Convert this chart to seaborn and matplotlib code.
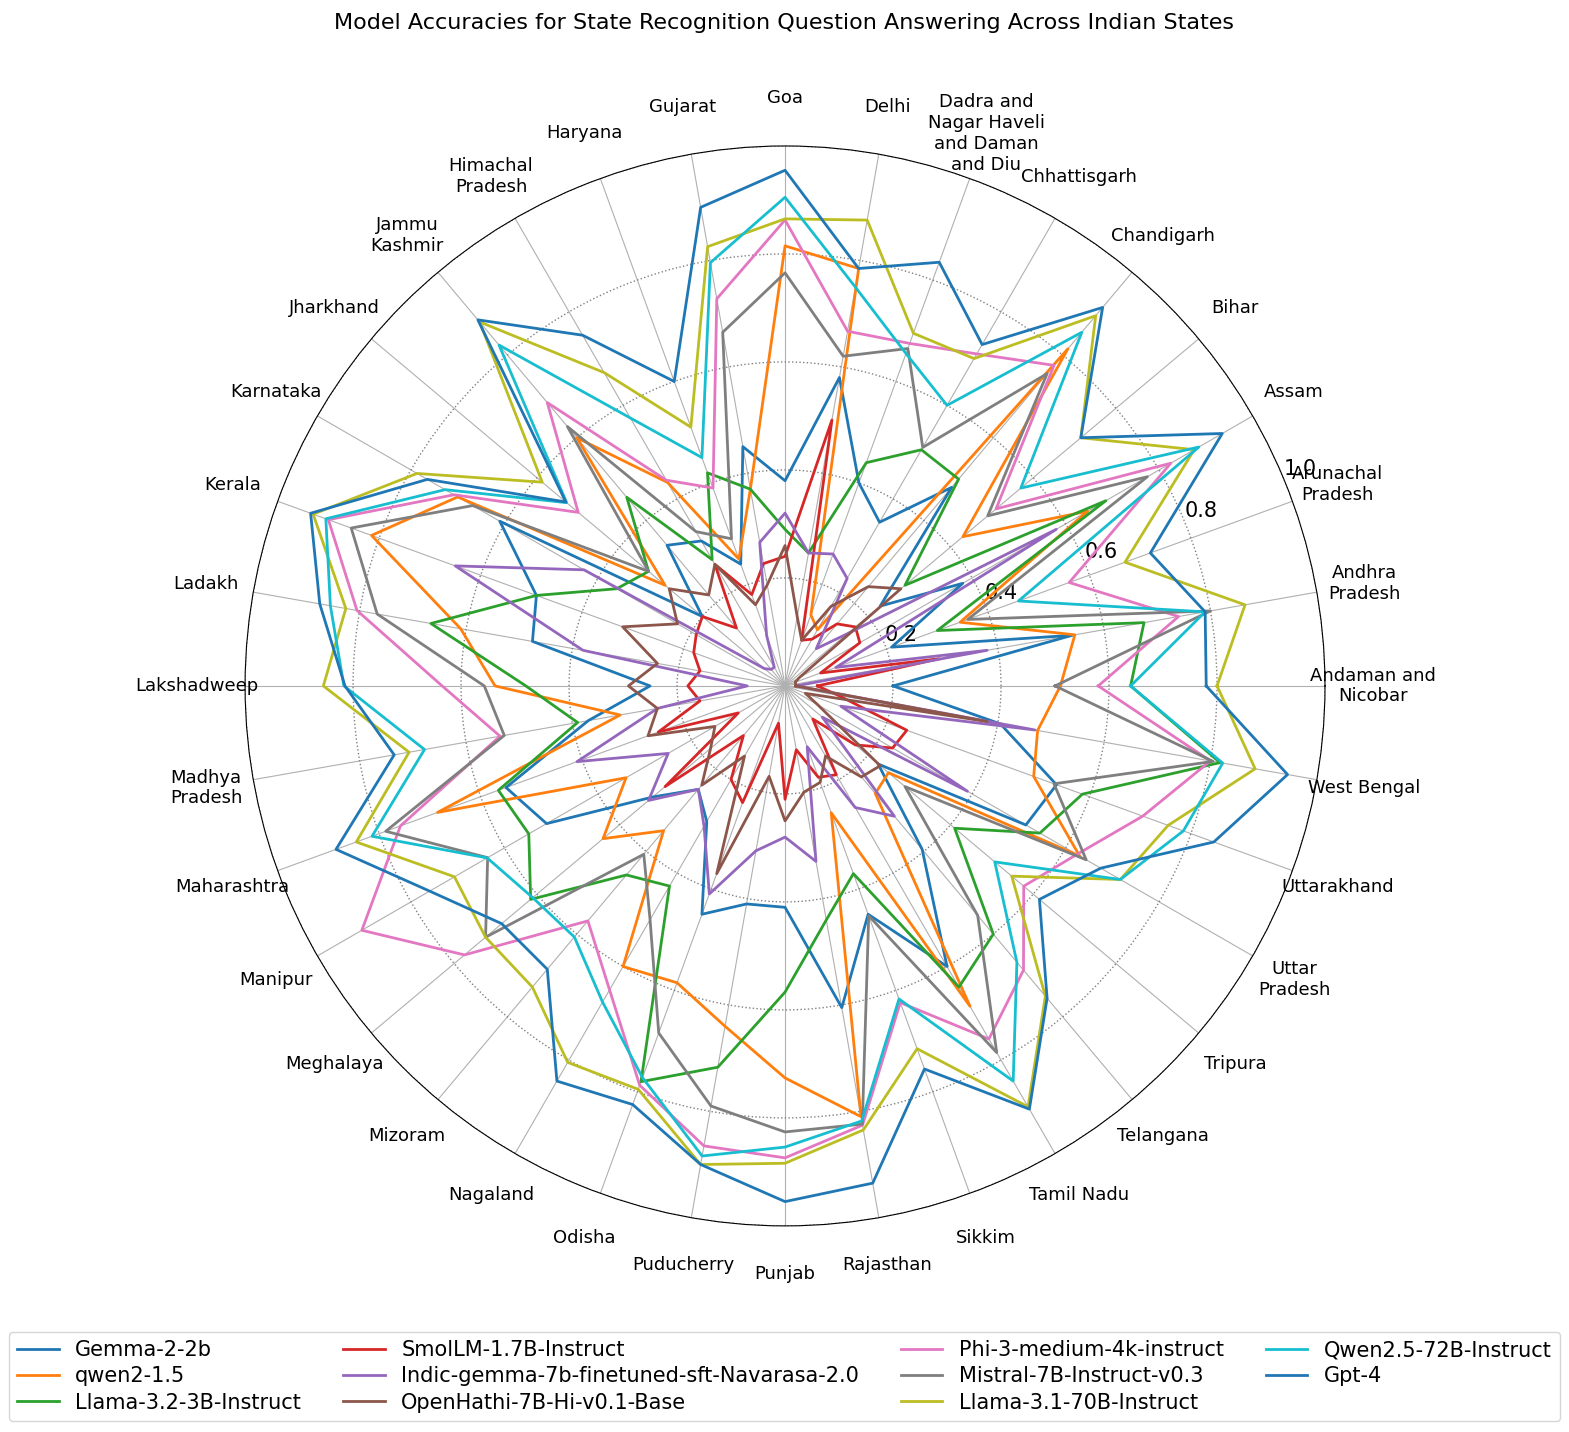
import textwrap
import numpy as np
import pandas as pd
import matplotlib.pyplot as plt
from matplotlib.lines import Line2D
import seaborn as sns

# states, counter-clockwise from the right
states = ["Andaman and Nicobar", "Andhra Pradesh", "Arunachal Pradesh", "Assam", "Bihar",
          "Chandigarh", "Chhattisgarh", "Dadra and Nagar Haveli and Daman and Diu", "Delhi",
          "Goa", "Gujarat", "Haryana", "Himachal Pradesh", "Jammu Kashmir", "Jharkhand",
          "Karnataka", "Kerala", "Ladakh", "Lakshadweep", "Madhya Pradesh", "Maharashtra",
          "Manipur", "Meghalaya", "Mizoram", "Nagaland", "Odisha", "Puducherry", "Punjab",
          "Rajasthan", "Sikkim", "Tamil Nadu", "Telangana", "Tripura", "Uttar Pradesh",
          "Uttarakhand", "West Bengal"]

models = ["Gemma-2-2b", "qwen2-1.5", "Llama-3.2-3B-Instruct", "SmolLM-1.7B-Instruct",
          "Indic-gemma-7b-finetuned-sft-Navarasa-2.0", "OpenHathi-7B-Hi-v0.1-Base",
          "Phi-3-medium-4k-instruct", "Mistral-7B-Instruct-v0.3", "Llama-3.1-70B-Instruct",
          "Qwen2.5-72B-Instruct", "Gpt-4"]

gemma = [0.20, 0.54, 0.21, 0.38, 0.23, 0.48, 0.35, 0.40, 0.58, 0.38, 0.45, 0.24,
         0.31, 0.34, 0.20, 0.61, 0.49, 0.475, 0.25, 0.37, 0.55, 0.51, 0.32, 0.25,
         0.29, 0.45, 0.41, 0.41, 0.605, 0.45, 0.60, 0.395, 0.225, 0.515, 0.535, 0.405]
qwen2 = [0.51, 0.545, 0.345, 0.647, 0.43, 0.815, 0.12, 0.14, 0.785, 0.815, 0.37, 0.25,
         0.435, 0.60, 0.29, 0.70, 0.815, 0.61, 0.537, 0.31, 0.685, 0.34, 0.44, 0.35,
         0.60, 0.585, 0.64, 0.726, 0.81, 0.25, 0.685, 0.26, 0.25, 0.63, 0.49, 0.475]
llama32 = [0.64, 0.675, 0.30, 0.686, 0.29, 0.50, 0.505, 0.44, 0.25, 0.29, 0.37, 0.42,
           0.27, 0.456, 0.33, 0.36, 0.49, 0.666, 0.48, 0.39, 0.565, 0.548, 0.615, 0.457,
           0.428, 0.78, 0.717, 0.567, 0.44, 0.37, 0.644, 0.60, 0.41, 0.545, 0.586, 0.818]
smollm = [0.06, 0.29, 0.07, 0.16, 0.17, 0.15, 0.10, 0.09, 0.50, 0.24, 0.23, 0.18,
          0.26, 0.14, 0.20, 0.19, 0.18, 0.16, 0.18, 0.16, 0.25, 0.10, 0.29, 0.12,
          0.20, 0.23, 0.07, 0.21, 0.12, 0.18, 0.19, 0.08, 0.17, 0.23, 0.24, 0.10]
indic = [0.02, 0.38, 0.10, 0.58, 0.15, 0.09, 0.23, 0.26, 0.25, 0.32, 0.27, 0.10,
         0.04, 0.04, 0.05, 0.43, 0.65, 0.38, 0.07, 0.24, 0.41, 0.25, 0.33, 0.25,
         0.30, 0.41, 0.31, 0.28, 0.33, 0.12, 0.26, 0.315, 0.09, 0.39, 0.11, 0.47]
openhathi = [0.02, 0.02, 0.02, 0.03, 0.28, 0.24, 0.17, 0.09, 0.13, 0.26, 0.19, 0.16,
             0.26, 0.22, 0.28, 0.23, 0.32, 0.24, 0.29, 0.24, 0.27, 0.15, 0.18, 0.24,
             0.15, 0.37, 0.17, 0.25, 0.20, 0.19, 0.15, 0.22, 0.23, 0.07, 0.04, 0.38]
phi3 = [0.58, 0.74, 0.56, 0.825, 0.51, 0.775, 0.71, 0.675, 0.667, 0.863, 0.728, 0.39,
        0.44, 0.685, 0.50, 0.708, 0.90, 0.805, 0.635, 0.536, 0.758, 0.905, 0.775, 0.568,
        0.65, 0.787, 0.865, 0.874, 0.826, 0.624, 0.755, 0.687, 0.577, 0.624, 0.705, 0.80]
mistral = [0.50, 0.80, 0.36, 0.775, 0.49, 0.755, 0.51, 0.665, 0.62, 0.765, 0.665, 0.29,
           0.33, 0.627, 0.33, 0.668, 0.855, 0.767, 0.557, 0.528, 0.787, 0.636, 0.724, 0.407,
           0.50, 0.684, 0.79, 0.826, 0.824, 0.453, 0.784, 0.555, 0.29, 0.644, 0.53, 0.805]
llama31 = [0.80, 0.865, 0.67, 0.875, 0.715, 0.895, 0.70, 0.695, 0.876, 0.865, 0.826, 0.51,
           0.67, 0.88, 0.587, 0.787, 0.93, 0.826, 0.855, 0.707, 0.845, 0.707, 0.724, 0.728,
           0.805, 0.795, 0.90, 0.884, 0.835, 0.715, 0.90, 0.75, 0.548, 0.717, 0.755, 0.884]
qwen25 = [0.64, 0.79, 0.46, 0.885, 0.57, 0.855, 0.60, 0.655, 0.75, 0.905, 0.796, 0.45,
          0.573, 0.824, 0.528, 0.727, 0.905, 0.855, 0.817, 0.678, 0.814, 0.637, 0.61, 0.607,
          0.676, 0.772, 0.884, 0.854, 0.818, 0.617, 0.845, 0.668, 0.507, 0.717, 0.785, 0.823]
gpt4 = [0.78, 0.79, 0.72, 0.935, 0.715, 0.915, 0.73, 0.835, 0.785, 0.955, 0.90, 0.60,
        0.75, 0.885, 0.53, 0.765, 0.935, 0.875, 0.815, 0.735, 0.885, 0.76, 0.685, 0.685,
        0.845, 0.825, 0.90, 0.955, 0.935, 0.755, 0.905, 0.755, 0.615, 0.675, 0.845, 0.945]

scores = [gemma, qwen2, llama32, smollm, indic, openhathi, phi3, mistral, llama31, qwen25, gpt4]

# long-form table, each polygon closed by repeating its first point
n = len(states)
angles = np.linspace(0, 2 * np.pi, n, endpoint=False)
rows = []
for name, vals in zip(models, scores):
    for a, v in zip(list(angles) + [2 * np.pi], list(vals) + [vals[0]]):
        rows.append({"model": name, "angle": a, "accuracy": v})
df = pd.DataFrame(rows)

tab = sns.color_palette("tab10", 10)
palette = dict(zip(models, tab + [tab[0]]))

fig = plt.figure(figsize=(15.69, 14.32), dpi=100)
ax = fig.add_axes([0.1562, 0.1439, 0.6883, 0.7542], projection="polar")

sns.lineplot(data=df, x="angle", y="accuracy", hue="model", hue_order=models,
             palette=palette, sort=False, estimator=None, linewidth=2,
             legend=False, ax=ax)

ax.set_xlabel("")
ax.set_ylabel("")
ax.set_ylim(0, 1.0)
ax.set_xticks(angles)
ax.set_xticklabels([textwrap.fill(s, 12) for s in states], fontsize=13)
ax.tick_params(axis="x", pad=24)
ax.set_yticks([0.2, 0.4, 0.6, 0.8, 1.0])
ax.set_yticklabels(["0.2", "0.4", "0.6", "0.8", "1.0"], fontsize=15)
ax.xaxis.grid(True, color="#b0b0b0", linewidth=0.8)
ax.yaxis.grid(True, color="gray", linestyle=":", linewidth=1)

fig.text(0.5, 0.984, "Model Accuracies for State Recognition Question Answering Across Indian States",
         ha="center", va="center", fontsize=16)

handles = [Line2D([0], [0], color=palette[m], linewidth=2) for m in models]
fig.legend(handles, models, loc="lower center", bbox_to_anchor=(0.5, 0.0077), ncol=4,
           fontsize=15, labelspacing=0.3, borderaxespad=0)

fig.savefig("out.png", dpi=100)
